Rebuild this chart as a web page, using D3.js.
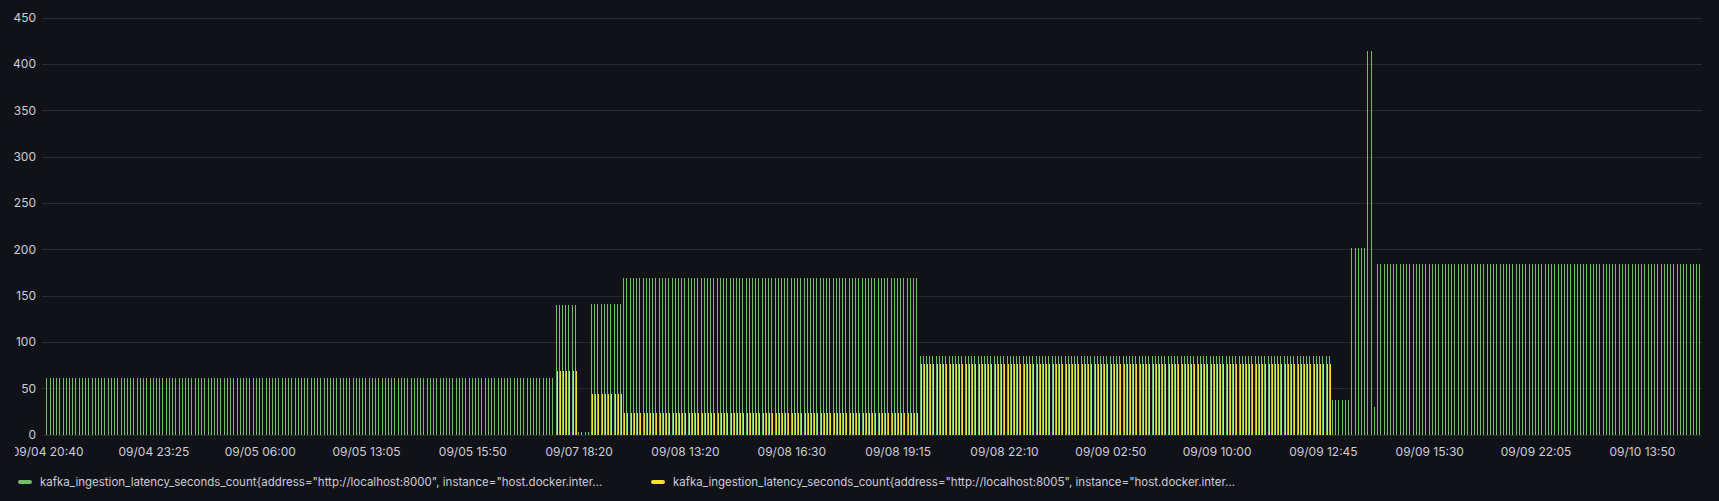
<!DOCTYPE html>
<html>
<head>
<meta charset="utf-8">
<script src="https://cdn.jsdelivr.net/npm/d3@7"></script>
<style>
  html, body { margin: 0; padding: 0; background: #111217; }
  svg { display: block; font-family: Inter, "Noto Sans", sans-serif; }
</style>
</head>
<body>
<div id="chart"></div>
<script>
// runs of equal bars, read left to right off the picture
const segLength = [158, 7, 4, 10, 92, 128, 6, 5, 2, 1, 101];
const greenValues = [61, 140, 3, 141, 169, 85, 37, 201, 414, 30, 184];
const yellowValues = [0, 69, 0, 44, 23, 76, 0, 0, 0, 0, 0];

const tickLabels = ["09/04 20:40", "09/04 23:25", "09/05 06:00", "09/05 13:05", "09/05 15:50",
  "09/07 18:20", "09/08 13:20", "09/08 16:30", "09/08 19:15", "09/08 22:10", "09/09 02:50",
  "09/09 10:00", "09/09 12:45", "09/09 15:30", "09/09 22:05", "09/10 13:50"];
const tickEvery = 33;
const yTicks = [0, 50, 100, 150, 200, 250, 300, 350, 400, 450];

const seriesNames = [
  'kafka_ingestion_latency_seconds_count{address="http://localhost:8000", instance="host.docker.inter...',
  'kafka_ingestion_latency_seconds_count{address="http://localhost:8005", instance="host.docker.inter...'
];
const colors = ["#73BF69", "#FADE2A"];

const width = 1719, height = 501;

const data = [];
segLength.forEach((n, s) => {
  for (let k = 0; k < n; k++) data.push({i: data.length, g: greenValues[s], y: yellowValues[s]});
});

const svg = d3.select("#chart").append("svg")
  .attr("width", width)
  .attr("height", height)
  .attr("viewBox", `0 0 ${width} ${height}`);

const x = d3.scaleBand().domain(data.map(d => d.i)).range([46, 1702]).padding(0);
const y = d3.scaleLinear().domain([0, 450]).range([434.7, 17.7]);

// grid
svg.append("g")
  .selectAll("line")
  .data(yTicks)
  .join("line")
  .attr("x1", 42).attr("x2", 1702)
  .attr("y1", d => Math.round(y(d)) + 0.5)
  .attr("y2", d => Math.round(y(d)) + 0.5)
  .attr("stroke", "#2a2b30")
  .attr("stroke-width", 1);

svg.append("g")
  .selectAll("text")
  .data(yTicks)
  .join("text")
  .attr("x", 36)
  .attr("y", d => y(d))
  .attr("dy", "0.35em")
  .attr("text-anchor", "end")
  .attr("fill", "#ccccdc")
  .style("font-size", "12px")
  .text(d => d);

// bars
const bw = x.bandwidth();
const groupW = bw * 0.7;
const bars = svg.append("g").attr("shape-rendering", "crispEdges");

const gx = d => Math.round(x(d.i) + (bw - groupW) / 2);

bars.selectAll("rect.g")
  .data(data.filter(d => d.g > 0))
  .join("rect")
  .attr("class", "g")
  .attr("x", gx)
  .attr("width", 1)
  .attr("y", d => Math.round(y(d.g)))
  .attr("height", d => Math.round(y(0)) - Math.round(y(d.g)))
  .attr("fill", colors[0]);

bars.selectAll("rect.y")
  .data(data.filter(d => d.y > 0))
  .join("rect")
  .attr("class", "y")
  .attr("x", d => gx(d) + 1)
  .attr("width", 1)
  .attr("y", d => Math.round(y(d.y)))
  .attr("height", d => Math.round(y(0)) - Math.round(y(d.y)))
  .attr("fill", colors[1]);

// x labels (first one is cut by the panel edge)
svg.append("clipPath").attr("id", "xclip")
  .append("rect").attr("x", 15).attr("y", 0).attr("width", width - 15).attr("height", height);

svg.append("g")
  .attr("clip-path", "url(#xclip)")
  .selectAll("text")
  .data(tickLabels)
  .join("text")
  .attr("x", (d, k) => x(k * tickEvery) + bw / 2)
  .attr("y", 452)
  .attr("dy", "0.35em")
  .attr("text-anchor", "middle")
  .attr("fill", "#ccccdc")
  .style("font-size", "12px")
  .text(d => d);

// legend
const legendX = [18, 651];
const legend = svg.append("g")
  .selectAll("g")
  .data(seriesNames)
  .join("g")
  .attr("transform", (d, k) => `translate(${legendX[k]}, 482)`);

legend.append("rect")
  .attr("x", 0).attr("y", -2)
  .attr("width", 14).attr("height", 4)
  .attr("rx", 2)
  .attr("fill", (d, k) => colors[k]);

legend.append("text")
  .attr("x", 22)
  .attr("dy", "0.35em")
  .attr("fill", "#ccccdc")
  .style("font-size", "11.5px")
  .text(d => d);
</script>
</body>
</html>
